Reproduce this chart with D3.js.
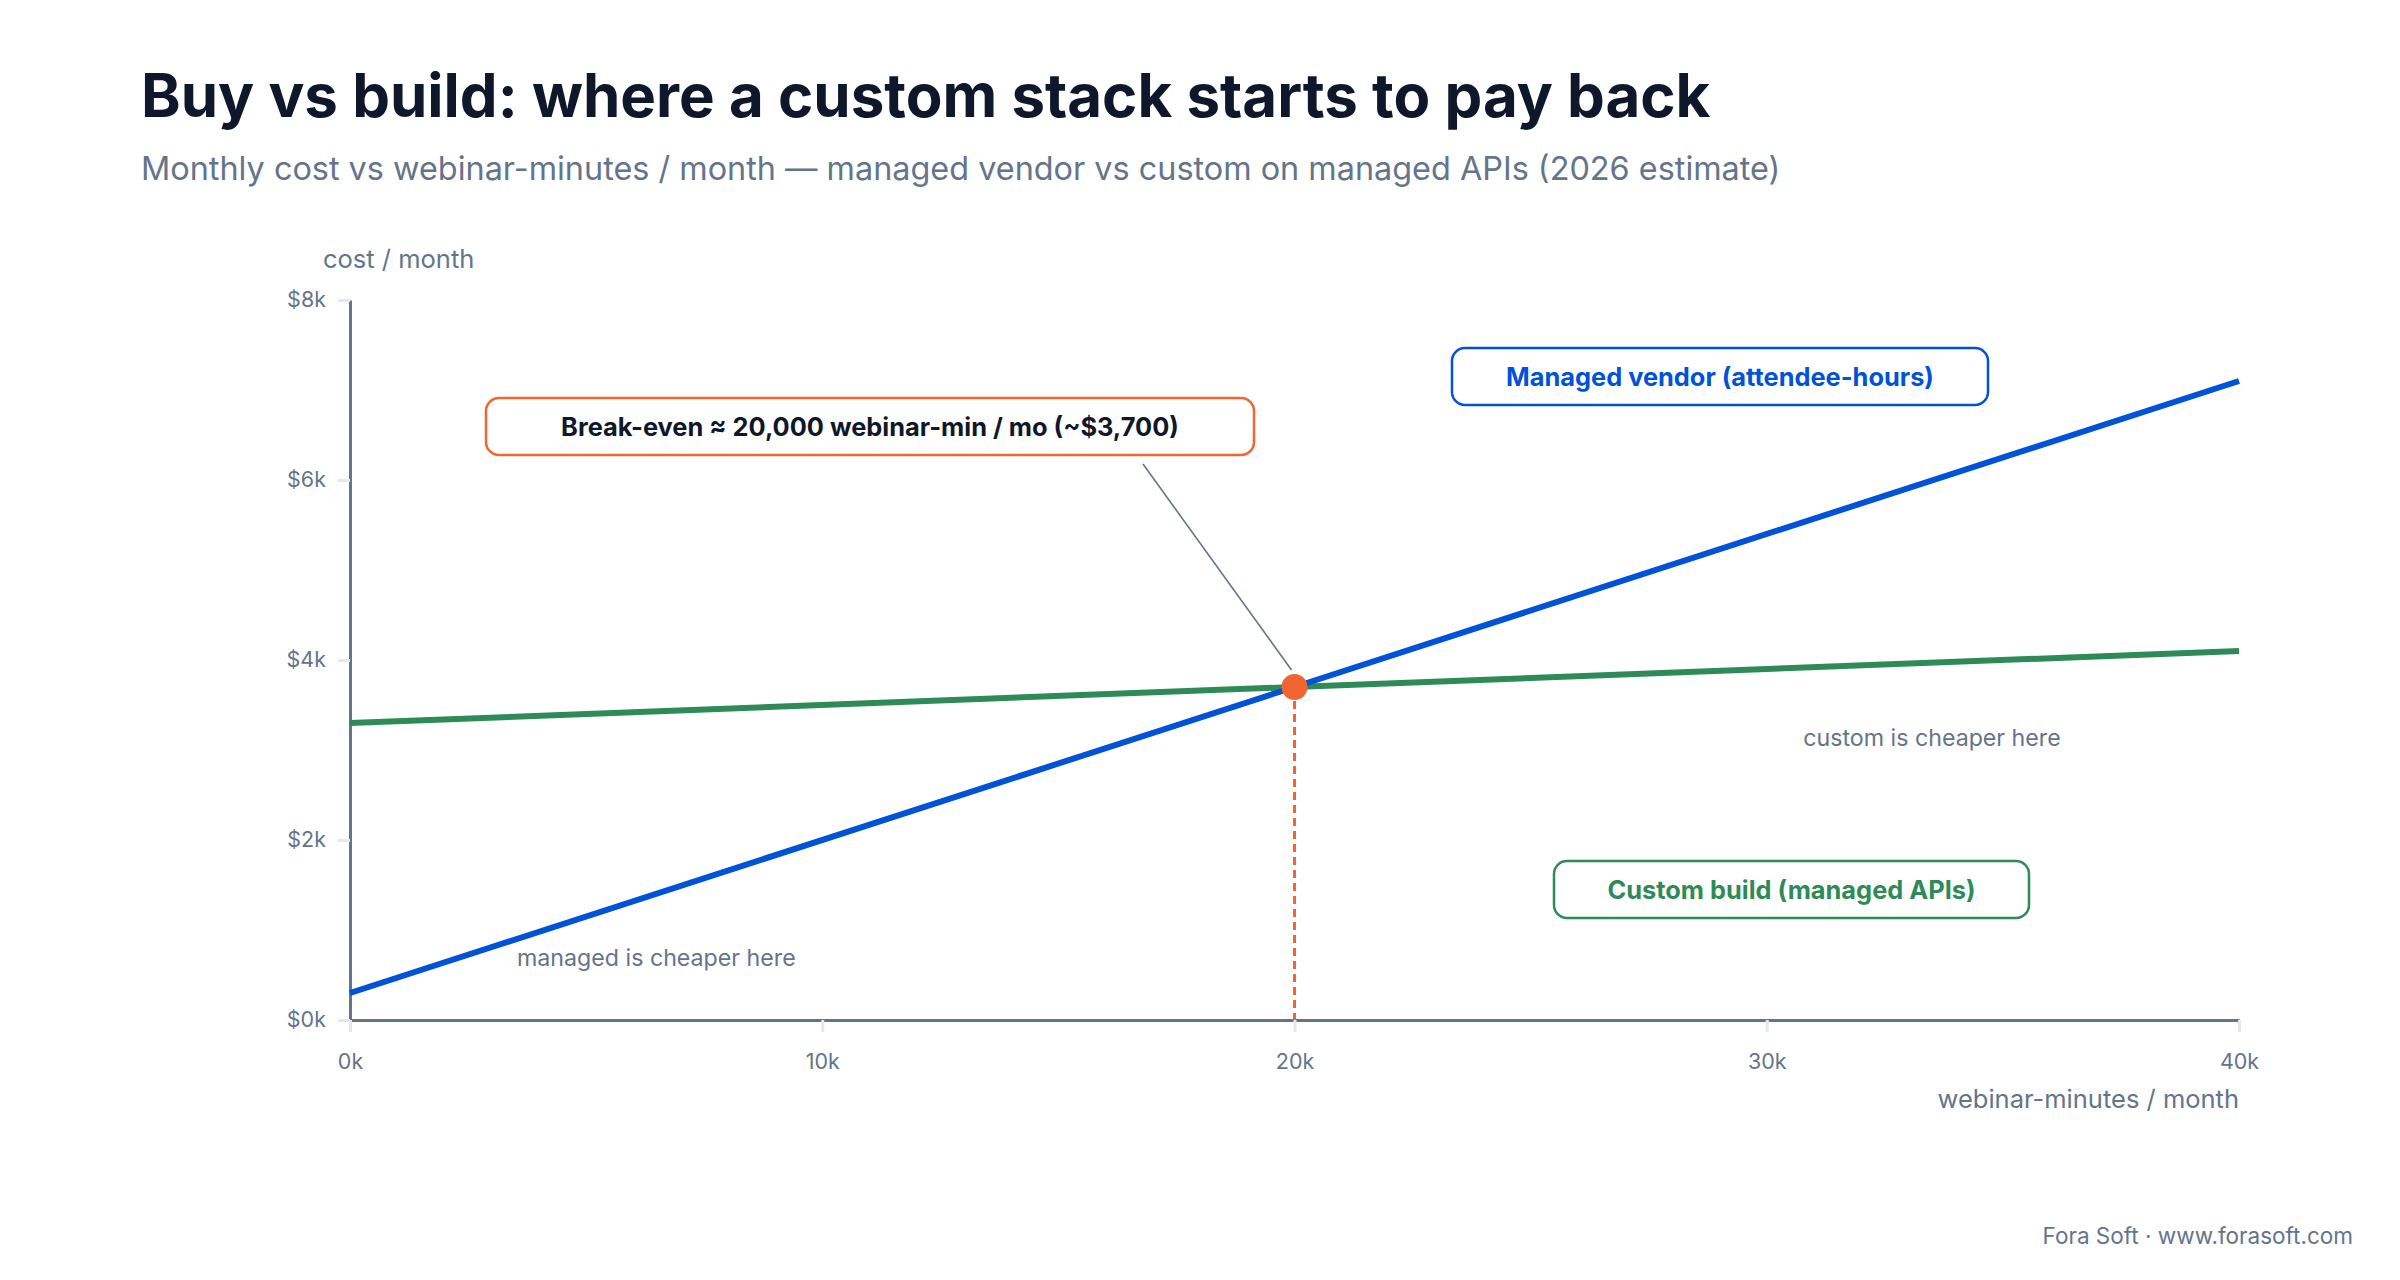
<!DOCTYPE html>
<html>
<head>
<meta charset="utf-8">
<script src="https://cdn.jsdelivr.net/npm/d3@7"></script>
<style>
    body { margin: 0; background: #ffffff; }
    svg text { font-family: Inter, "Noto Sans", sans-serif; }
</style>
</head>
<body>
<div id="chart"></div>
<script>
// webinar-minutes per month (x) and monthly cost in $ for each option
var minutes = [0, 20000, 40000];
var managedCost = [300, 3700, 7100];   // managed vendor, billed on attendee-hours
var customCost = [3300, 3700, 4100];   // custom build on managed APIs
var breakEven = {minutes: 20000, cost: 3700};

var yTicks = [0, 2000, 4000, 6000, 8000];
var xTicks = [0, 10000, 20000, 30000, 40000];

var width = 2400,
    height = 1280,
    slate = "#64748b",
    ink = "#0f172a",
    blue = "#0052d9",
    green = "#2e8b57",
    orange = "#f26430";

var svg = d3.select("#chart")
            .append("svg")
            .attr("width", width)
            .attr("height", height);

var x = d3.scaleLinear().domain([0, 40000]).range([350, 2239]);
var y = d3.scaleLinear().domain([0, 8000]).range([1020, 300]);

// titles
svg.append("text")
   .attr("x", 141)
   .attr("y", 117)
   .style("font-size", "60px")
   .style("font-weight", 700)
   .style("fill", ink)
   .text("Buy vs build: where a custom stack starts to pay back");

svg.append("text")
   .attr("x", 141)
   .attr("y", 180)
   .style("font-size", "32.4px")
   .style("fill", slate)
   .text("Monthly cost vs webinar-minutes / month \u2014 managed vendor vs custom on managed APIs (2026 estimate)");

// axes
var yAxis = d3.axisLeft(y)
              .tickValues(yTicks)
              .tickFormat(function(d) {return "$" + (d / 1000) + "k"; })
              .tickSize(12)
              .tickSizeOuter(0)
              .tickPadding(12);

var xAxis = d3.axisBottom(x)
              .tickValues(xTicks)
              .tickFormat(function(d) {return (d / 1000) + "k"; })
              .tickSize(12)
              .tickSizeOuter(0)
              .tickPadding(22);

var gy = svg.append("g")
            .attr("transform", "translate(" + x(0) + ",0)")
            .call(yAxis);

var gx = svg.append("g")
            .attr("transform", "translate(0," + y(0) + ")")
            .call(xAxis);

[gx, gy].forEach(function(g) {
    g.select(".domain").attr("stroke", slate).attr("stroke-width", 3);
    g.selectAll(".tick line").attr("stroke", "#e2e8f0").attr("stroke-width", 3);
    g.selectAll(".tick text")
     .style("font-size", "21.5px")
     .style("font-family", "Inter, sans-serif")
     .attr("fill", slate);
});

svg.append("text")
   .attr("x", 323)
   .attr("y", 268)
   .style("font-size", "25.5px")
   .style("fill", slate)
   .text("cost / month");

svg.append("text")
   .attr("x", x(40000))
   .attr("y", 1108)
   .attr("text-anchor", "end")
   .style("font-size", "25.5px")
   .style("fill", slate)
   .text("webinar-minutes / month");

// cost lines
var line = d3.line()
             .x(function(d) {return x(d[0]); })
             .y(function(d) {return y(d[1]); });

svg.append("path")
   .datum(d3.zip(minutes, customCost))
   .attr("d", line)
   .attr("fill", "none")
   .attr("stroke", green)
   .attr("stroke-width", 6);

svg.append("path")
   .datum(d3.zip(minutes, managedCost))
   .attr("d", line)
   .attr("fill", "none")
   .attr("stroke", blue)
   .attr("stroke-width", 6);

// break-even marker
svg.append("line")
   .attr("x1", x(breakEven.minutes))
   .attr("x2", x(breakEven.minutes))
   .attr("y1", y(breakEven.cost) + 14)
   .attr("y2", y(0))
   .attr("stroke", orange)
   .attr("stroke-width", 3)
   .attr("stroke-dasharray", "8,5");

svg.append("line")
   .attr("x1", 1143)
   .attr("y1", 464)
   .attr("x2", x(breakEven.minutes) - 3)
   .attr("y2", y(breakEven.cost) - 17)
   .attr("stroke", slate)
   .attr("stroke-width", 1.6);

svg.append("circle")
   .attr("cx", x(breakEven.minutes))
   .attr("cy", y(breakEven.cost))
   .attr("r", 13)
   .attr("fill", orange);

// boxed labels
function box(x0, y0, w, h, color, textColor, label) {
    svg.append("rect")
       .attr("x", x0)
       .attr("y", y0)
       .attr("width", w)
       .attr("height", h)
       .attr("rx", 13)
       .attr("fill", "#ffffff")
       .attr("stroke", color)
       .attr("stroke-width", 2.5);
    svg.append("text")
       .attr("x", x0 + w / 2)
       .attr("y", y0 + h / 2 + 9)
       .attr("text-anchor", "middle")
       .style("font-size", "25.4px")
       .style("font-weight", 700)
       .style("fill", textColor)
       .text(label);
}

box(486, 398, 768, 57, orange, ink, "Break-even \u2248 20,000 webinar-min / mo (~$3,700)");
box(1452, 348, 536, 57, blue, blue, "Managed vendor (attendee-hours)");
box(1554, 861, 475, 57, green, green, "Custom build (managed APIs)");

svg.append("text")
   .attr("x", 1932)
   .attr("y", 746)
   .attr("text-anchor", "middle")
   .style("font-size", "23.2px")
   .style("fill", slate)
   .text("custom is cheaper here");

svg.append("text")
   .attr("x", 517)
   .attr("y", 966)
   .style("font-size", "23.2px")
   .style("fill", slate)
   .text("managed is cheaper here");

svg.append("text")
   .attr("x", 2353)
   .attr("y", 1244)
   .attr("text-anchor", "end")
   .style("font-size", "22.5px")
   .style("fill", slate)
   .text("Fora Soft \u00b7 www.forasoft.com");
</script>
</body>
</html>
